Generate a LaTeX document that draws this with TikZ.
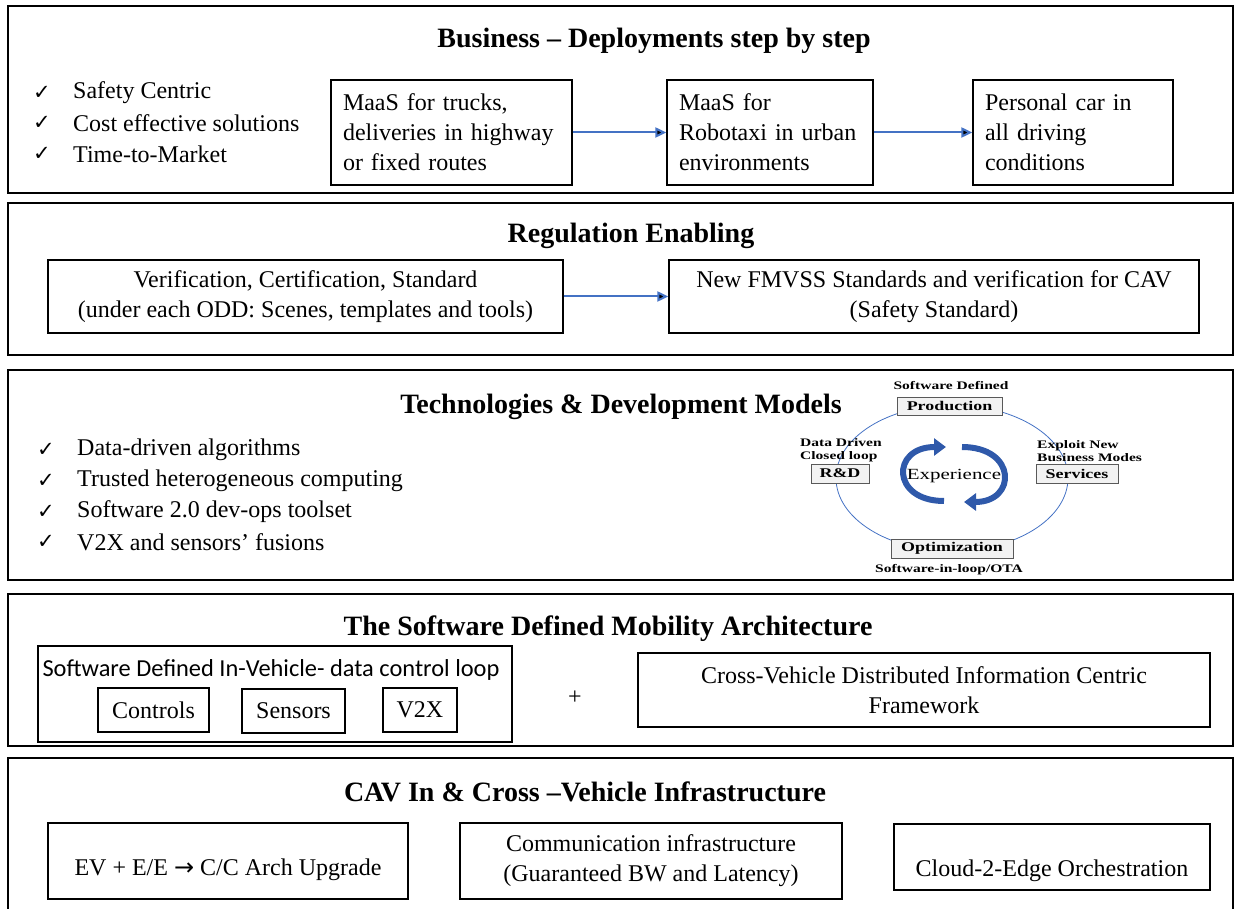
\documentclass[tikz,border=0pt]{standalone}
\usepackage{fontspec}
\setmainfont{Liberation Serif}
\newfontfamily\checkfont{DejaVu Sans}
\newfontfamily\loopfont{Carlito}
\newfontfamily\cyclefont{Liberation Serif}[FakeStretch=1.35]
\usetikzlibrary{arrows.meta}
\definecolor{flowblue}{RGB}{68,114,196}
\definecolor{loopblue}{RGB}{47,89,170}
\def\bodysize{\fontsize{24}{30}\selectfont}
\def\headsize{\fontsize{28}{34}\selectfont\bfseries}

\begin{document}
\begin{tikzpicture}[x=1pt,y=-1pt]
            \tikzstyle{section frame}=[draw=black, line width=2pt]
            \tikzstyle{heading}=[font=\headsize, inner sep=0pt]
            \tikzstyle{box}=[draw=black, line width=1.3pt, font=\bodysize, inner sep=0pt, align=center]
            \tikzstyle{left box}=[box, align=left, inner xsep=12pt]
            \tikzstyle{check}=[font=\checkfont\fontsize{21}{24}\selectfont, inner sep=0pt]
            \tikzstyle{list text}=[font=\bodysize, anchor=west, inner sep=0pt]
            \tikzstyle{flow}=[-{Triangle[length=11pt,width=10pt]}, draw=flowblue, line width=2pt]
            \tikzstyle{cycle box}=[draw=black!65, fill=gray!10, line width=0.8pt, inner sep=0pt,
                                   font=\cyclefont\bfseries\fontsize{13.3}{15}\selectfont]
            \tikzstyle{cycle note}=[inner sep=0pt, align=left,
                                    font=\cyclefont\bfseries\fontsize{11.5}{12.5}\selectfont]
            \tikzstyle{loop arrow}=[-{Triangle[length=12pt,width=17pt]}, draw=loopblue, line width=6pt]

            \useasboundingbox (0,0) rectangle (1235,909);

            % Frames of the five layers
            \draw[section frame] (8,6) rectangle (1233,193);
            \draw[section frame] (8,203) rectangle (1233,355);
            \draw[section frame] (8,370) rectangle (1233,580);
            \draw[section frame] (8,594) rectangle (1233,746);
            \draw[section frame] (8,915) -- (8,758) -- (1233,758) -- (1233,915);

            % Business layer
            \node[heading] (H-business) at (654,41) {Business – Deployments step by step};
            \foreach \name / \y / \itemtext in {1/93/Safety Centric, 2/123/Cost effective solutions, 3/154/Time-to-Market}
                \path node[check] (C1-\name) at (42,\y) {✓}
                      node[list text] (L1-\name) at (73,\y) {\itemtext};

            \node[left box, text width=217pt, minimum height=105pt] (trucks) at (451.5,132.5)
                {MaaS for trucks,\\deliveries in highway\\or fixed routes};
            \node[left box, text width=182pt, minimum height=105pt] (robotaxi) at (770,132.5)
                {MaaS for\\Robotaxi in urban\\environments};
            \node[left box, text width=176pt, minimum height=105pt] (personal) at (1073,132.5)
                {Personal car in\\all driving\\conditions};
            \path[flow] (trucks) edge (robotaxi);
            \path[flow] (robotaxi) edge (personal);

            % Regulation layer
            \node[heading] (H-regulation) at (631,236) {Regulation Enabling};
            \node[box, minimum width=515pt, minimum height=73pt] (verification) at (305.5,296.5)
                {Verification, Certification, Standard\\(under each ODD: Scenes, templates and tools)};
            \node[box, minimum width=530pt, minimum height=73pt] (fmvss) at (934,296.5)
                {New FMVSS Standards and verification for CAV\\(Safety Standard)};
            \path[flow] (verification) edge (fmvss);

            % Technologies layer
            \node[heading] (H-technologies) at (621,407) {Technologies \& Development Models};
            \foreach \name / \y / \itemtext in {1/450/Data-driven algorithms, 2/481/Trusted heterogeneous computing,
                                              3/512/Software 2.0 dev-ops toolset, 4/542/V2X and sensors’ fusions}
                \path node[check] (C3-\name) at (46,\y) {✓}
                      node[list text] (L3-\name) at (77,\y) {\itemtext};

            % the development cycle
            \draw[flowblue, line width=0.8pt] (952,478) ellipse [x radius=116pt, y radius=73pt];
            \node[cycle box, minimum width=105pt, minimum height=18pt] (production) at (949.5,406) {Production};
            \node[cycle box, minimum width=58pt, minimum height=19pt] (rnd) at (840,473.5) {R\&D};
            \node[cycle box, minimum width=82pt, minimum height=19pt] (services) at (1077,473.5) {Services};
            \node[cycle box, minimum width=122pt, minimum height=19pt] (optimization) at (952,548.5) {Optimization};
            \node[cycle note] (N-production) at (951,386) {Software Defined};
            \node[cycle note, anchor=west] (N-rnd) at (800,450) {Data Driven\\Closed loop};
            \node[cycle note, anchor=west] (N-services) at (1037,451) {Exploit New\\Business Modes};
            \node[cycle note] (N-optimization) at (949,570) {Software-in-loop/OTA};
            \node[inner sep=0pt, font=\cyclefont\fontsize{15.5}{18}\selectfont] (experience) at (954,476) {Experience};
            \draw[loop arrow] (944,501) .. controls (891,501) and (891,447) .. (946,447);
            \draw[loop arrow] (962,447) .. controls (1017,447) and (1017,502) .. (964,502);

            % Architecture layer
            \node[heading] (H-architecture) at (608,629) {The Software Defined Mobility Architecture};
            \node[box, minimum width=474pt, minimum height=96pt] (invehicle) at (275,694) {};
            \node[inner sep=0pt, font=\loopfont\fontsize{24.4}{28}\selectfont] (invehicle-label) at (271,670)
                {Software Defined In-Vehicle- data control loop};
            \node[box, minimum width=111pt, minimum height=44pt] (controls) at (153.5,710) {Controls};
            \node[box, minimum width=103pt, minimum height=44pt] (sensors) at (293.5,711) {Sensors};
            \node[box, minimum width=74pt, minimum height=44pt] (v2x) at (420,710) {V2X};
            \node[font=\bodysize, inner sep=0pt] (plus) at (575,698) {+};
            \node[box, minimum width=572pt, minimum height=74pt] (crossvehicle) at (924,690)
                {Cross-Vehicle Distributed Information Centric\\Framework};

            % Infrastructure layer
            \node[heading] (H-infrastructure) at (585,792) {CAV In \& Cross –Vehicle Infrastructure};
            \node[box, minimum width=360pt, minimum height=76pt, text height=34pt] (ev) at (228,861)
                {EV + E/E {\checkfont →} C/C Arch Upgrade};
            \node[box, minimum width=382pt, minimum height=76pt] (communication) at (651,861)
                {Communication infrastructure\\(Guaranteed BW and Latency)};
            \node[box, minimum width=316pt, minimum height=66pt, text height=44pt] (cloud) at (1052,857)
                {Cloud-2-Edge Orchestration};
\end{tikzpicture}
\end{document}
